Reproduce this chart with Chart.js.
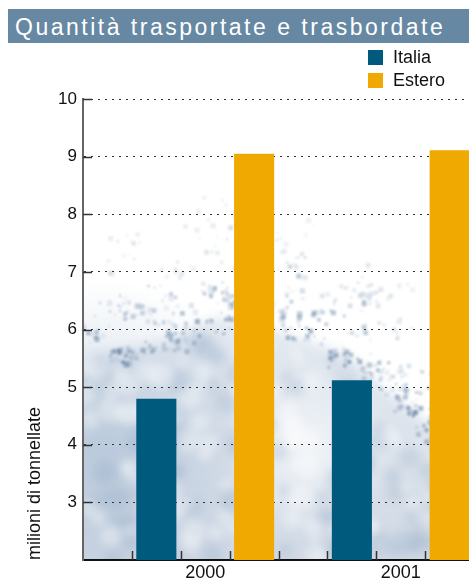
<!DOCTYPE html>
<html lang="it">
<head>
<meta charset="utf-8">
<title>Quantità trasportate e trasbordate</title>
<script src="https://cdn.jsdelivr.net/npm/chart.js@4.4.1/dist/chart.umd.min.js"></script>
<style>
  html, body { margin: 0; padding: 0; width: 469px; height: 581px; overflow: hidden; background: #fff; }
  #title {
    position: absolute; left: 8px; top: 9px; width: 461px; height: 34px;
    background: #6688a3; color: #fff; box-sizing: border-box; padding-left: 7px;
    font: 23px "Liberation Sans", Arial, sans-serif; line-height: 36px; letter-spacing: 2.5px;
    white-space: nowrap; overflow: hidden; z-index: 2;
  }
  #legend { position: absolute; left: 368px; top: 50px; z-index: 2; font: 18px "Liberation Sans", Arial, sans-serif; color: #111; }
  #legend .item { display: flex; align-items: center; height: 15px; margin-bottom: 8px; white-space: nowrap; }
  #legend .sw { width: 15px; height: 15px; margin-right: 10px; }
  #wrap { position: absolute; left: 0; top: 0; width: 523px; height: 581px; }
</style>
</head>
<body>
<div id="title">Quantità trasportate e trasbordate</div>
<div id="legend"></div>
<div id="wrap"><canvas id="chart"></canvas></div>
<script>
// Anni e quantità (milioni di tonnellate)
const years = [2000, 2001];
const italia = [4.8, 5.12];
const estero = [9.05, 9.11];
const seriesNames = ['Italia', 'Estero'];
const yTickValues = [2, 3, 4, 5, 6, 7, 8, 9, 10];
const xMinorTicks = [1999.625, 1999.875, 2000.125, 2000.375, 2000.625, 2000.875, 2001.125, 2001.375];

const COLORS = ['#005a7e', '#f0a900'];
const FONT = '"Liberation Sans", Arial, sans-serif';

// Deterministic integer hash in [0, 1) for the paper texture
function hash(n) {
  let t = (Math.imul(n + 1, 0x6D2B79F5) + 0x9E3779B9) | 0;
  t = Math.imul(t ^ (t >>> 15), t | 1);
  t ^= t + Math.imul(t ^ (t >>> 7), t | 61);
  return ((t ^ (t >>> 14)) >>> 0) / 4294967296;
}

// Watercolour backdrop behind the plot
const backdrop = {
  id: 'backdrop',
  beforeDraw(chart) {
    const { ctx, chartArea: a } = chart;
    const w = a.right - a.left, h = a.bottom - a.top;
    const shore = [0.53, 0.52, 0.50, 0.45, 0.47, 0.50, 0.53, 0.62, 0.69, 0.71, 0.72];
    const shoreY = x => {
      const t = Math.max(0, Math.min(1, (x - a.left) / w)) * (shore.length - 1);
      const i = Math.min(shore.length - 2, Math.floor(t)), f = t - i;
      return a.top + h * (shore[i] * (1 - f) + shore[i + 1] * f);
    };
    ctx.save();
    ctx.beginPath(); ctx.rect(a.left, a.top, w, h); ctx.clip();
    ctx.fillStyle = '#ffffff'; ctx.fillRect(a.left, a.top, w, h);

    // tinted lower region
    ctx.save();
    ctx.filter = 'blur(6px)';
    const g = ctx.createLinearGradient(0, a.top + h * 0.45, 0, a.bottom);
    g.addColorStop(0, '#e4eaf1');
    g.addColorStop(0.5, '#dce3ec');
    g.addColorStop(1, '#d0d9e5');
    ctx.fillStyle = g;
    ctx.beginPath();
    ctx.moveTo(a.left - 20, a.bottom + 20);
    for (let x = a.left - 20; x <= a.right + 20; x += 8) ctx.lineTo(x, shoreY(x) + 10);
    ctx.lineTo(a.right + 20, a.bottom + 20);
    ctx.closePath(); ctx.fill();
    ctx.restore();

    // darker wash at lower left, lighter patch in the middle
    let r = ctx.createRadialGradient(a.left + 20, a.bottom - 110, 10, a.left + 20, a.bottom - 110, 170);
    r.addColorStop(0, 'rgba(150,175,202,0.45)');
    r.addColorStop(1, 'rgba(150,175,202,0)');
    ctx.fillStyle = r; ctx.fillRect(a.left, a.top, w, h);
    r = ctx.createRadialGradient(a.left + 225, a.bottom - 110, 5, a.left + 225, a.bottom - 110, 90);
    r.addColorStop(0, 'rgba(255,255,255,0.6)');
    r.addColorStop(1, 'rgba(255,255,255,0)');
    ctx.fillStyle = r; ctx.fillRect(a.left, a.top, w, h);

    // mottling in the tinted area
    ctx.save();
    ctx.filter = 'blur(4px)';
    for (let i = 0; i < 220; i++) {
      const x = a.left + hash(i) * w;
      const y0 = shoreY(x) + 20;
      const y = y0 + hash(i + 500) * (a.bottom - y0);
      const light = hash(i + 900) > 0.5;
      ctx.fillStyle = light ? 'rgba(255,255,255,0.35)' : 'rgba(130,158,190,0.22)';
      ctx.beginPath(); ctx.arc(x, y, 4 + hash(i + 1300) * 9, 0, Math.PI * 2); ctx.fill();
    }
    ctx.restore();

    // clustered pigment specks along the edge of the wash
    ctx.save();
    ctx.filter = 'blur(1.2px)';
    for (let c = 0; c < 110; c++) {
      const cx = a.left + hash(c + 2000) * w;
      const d = Math.pow(hash(c + 3000), 1.6);
      const cy = shoreY(cx) + 18 - d * 130;
      const n = 3 + Math.floor(hash(c + 3500) * 9 * (1 - d));
      for (let k = 0; k < n; k++) {
        const id = c * 31 + k;
        const x = cx + (hash(id + 6000) - 0.5) * 26;
        const y = cy + (hash(id + 7000) - 0.5) * 18;
        const s = 1.5 + hash(id + 8000) * 4;
        const al = 0.08 + (1 - d) * 0.4 * hash(id + 9000);
        ctx.fillStyle = `rgba(60,98,140,${al.toFixed(3)})`;
        ctx.fillRect(x, y, s, s);
      }
    }
    ctx.restore();
    ctx.restore();
  }
};

// Short inward tick marks on both axes
const innerTicks = {
  id: 'innerTicks',
  afterDatasetsDraw(chart) {
    const { ctx, chartArea: a, scales: { x, y } } = chart;
    ctx.save();
    ctx.strokeStyle = '#333';
    ctx.lineWidth = 1.5;
    ctx.beginPath();
    xMinorTicks.forEach(v => {
      const px = Math.round(x.getPixelForValue(v)) + 0.5;
      ctx.moveTo(px, a.bottom); ctx.lineTo(px, a.bottom - 9);
    });
    yTickValues.slice(1).forEach(v => {
      const py = Math.round(y.getPixelForValue(v)) + 0.5;
      ctx.moveTo(a.left, py); ctx.lineTo(a.left + 9, py);
    });
    ctx.stroke();
    ctx.restore();
  }
};

const datasets = [italia, estero].map((vals, k) => ({
  label: seriesNames[k],
  data: years.map((yr, i) => ({ x: yr, y: vals[i] })),
  backgroundColor: COLORS[k],
  borderWidth: 0,
  categoryPercentage: 1.0,
  barPercentage: 0.41
}));

// Legend
const legendEl = document.getElementById('legend');
datasets.forEach(ds => {
  const it = document.createElement('div');
  it.className = 'item';
  const sw = document.createElement('span');
  sw.className = 'sw'; sw.style.background = ds.backgroundColor;
  const tx = document.createElement('span');
  tx.textContent = ds.label;
  it.appendChild(sw); it.appendChild(tx);
  legendEl.appendChild(it);
});

new Chart(document.getElementById('chart'), {
  type: 'bar',
  data: { datasets },
  plugins: [backdrop, innerTicks],
  options: {
    responsive: true,
    maintainAspectRatio: false,
    animation: false,
    events: [],
    layout: { padding: { top: 99, left: 0, right: 0, bottom: 0 } },
    plugins: { legend: { display: false }, tooltip: { enabled: false }, title: { display: false } },
    scales: {
      x: {
        type: 'linear',
        offset: false,
        min: 1999.375,
        max: 2001.625,
        afterBuildTicks: s => { s.ticks = years.map(v => ({ value: v })); },
        afterFit: s => { s.height = 21; },
        grid: { display: false, drawTicks: false, offset: false },
        border: { display: true, color: '#111', width: 2 },
        ticks: { padding: 2, color: '#111', font: { family: FONT, size: 18 }, callback: v => String(v), maxRotation: 0 }
      },
      y: {
        min: 2,
        max: 10,
        afterBuildTicks: s => { s.ticks = yTickValues.map(v => ({ value: v })); },
        afterFit: s => { s.width = 83; },
        grid: { color: '#333', lineWidth: 1, drawTicks: false },
        border: { display: true, color: '#666', width: 2, dash: [2, 5] },
        ticks: { padding: 6, color: '#111', font: { family: FONT, size: 17 }, callback: v => (v === 2 ? '' : String(v)) },
        title: {
          display: true, text: 'milioni di tonnellate', align: 'start',
          color: '#111', font: { family: FONT, size: 18 }, padding: { top: 24, bottom: 0 }
        }
      }
    }
  }
});
</script>
</body>
</html>
